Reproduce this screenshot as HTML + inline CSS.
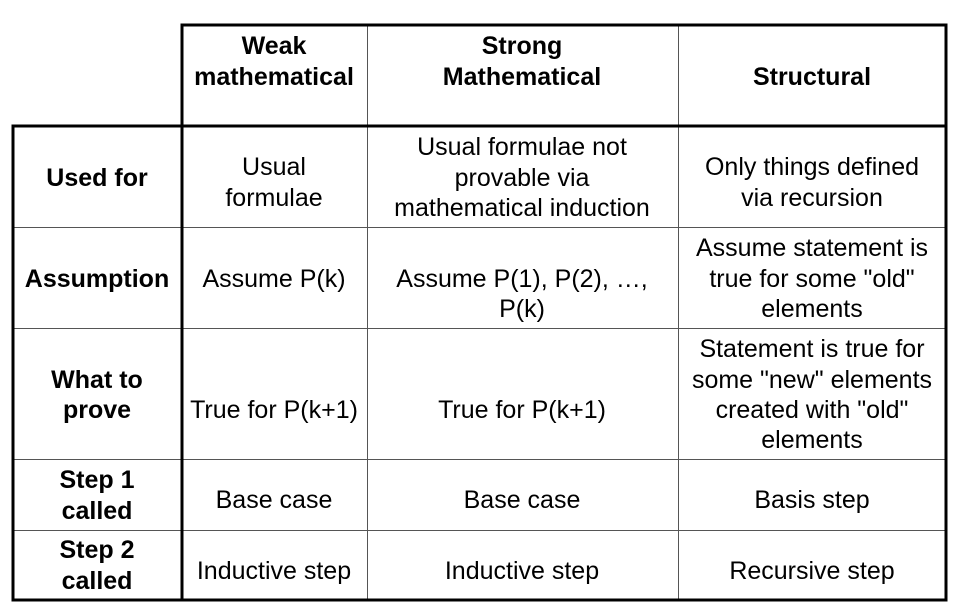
<!DOCTYPE html>
<html><head><meta charset="utf-8"><style>
html,body{margin:0;padding:0;background:#fff;width:955px;height:610px;overflow:hidden}
svg text{font-family:"Liberation Sans",Arial,Helvetica,sans-serif;font-size:25px;fill:#000;text-anchor:middle}
.b{font-weight:bold}
</style></head><body>
<svg width="955" height="610" xmlns="http://www.w3.org/2000/svg">
<g stroke="#555" stroke-width="1">
<line x1="367.5" y1="25" x2="367.5" y2="600"/>
<line x1="678.5" y1="25" x2="678.5" y2="600"/>
<line x1="13" y1="227.5" x2="946" y2="227.5"/>
<line x1="13" y1="328.5" x2="946" y2="328.5"/>
<line x1="13" y1="459.5" x2="946" y2="459.5"/>
<line x1="13" y1="530.5" x2="946" y2="530.5"/>
</g>
<g stroke="#000" stroke-width="3" fill="none">
<line x1="182" y1="25" x2="947" y2="25"/>
<line x1="182" y1="23.5" x2="182" y2="601"/>
<line x1="12" y1="126" x2="947" y2="126"/>
<line x1="13" y1="124.5" x2="13" y2="601"/>
<line x1="946" y1="23.5" x2="946" y2="601"/>
<line x1="11.5" y1="600" x2="947.5" y2="600"/>
</g>
<text class="b" x="274" y="54">Weak</text>
<text class="b" x="274" y="85">mathematical</text>
<text class="b" x="522" y="54">Strong</text>
<text class="b" x="522" y="85">Mathematical</text>
<text class="b" x="812" y="85">Structural</text>

<text class="b" x="97" y="186">Used for</text>
<text x="274" y="175">Usual</text>
<text x="274" y="206">formulae</text>
<text x="522" y="155">Usual  formulae not</text>
<text x="522" y="186">provable via</text>
<text x="522" y="216">mathematical induction</text>
<text x="812" y="175">Only things defined</text>
<text x="812" y="206">via recursion</text>

<text class="b" x="97" y="287">Assumption</text>
<text x="274" y="287">Assume P(k)</text>
<text x="522" y="287">Assume P(1), P(2), …,</text>
<text x="522" y="317">P(k)</text>
<text x="812" y="256">Assume statement is</text>
<text x="812" y="287">true for some "old"</text>
<text x="812" y="317">elements</text>

<text class="b" x="97" y="388">What to</text>
<text class="b" x="97" y="418">prove</text>
<text x="274" y="418">True for P(k+1)</text>
<text x="522" y="418">True for P(k+1)</text>
<text x="812" y="357">Statement is true for</text>
<text x="812" y="388">some "new" elements</text>
<text x="812" y="418">created with "old"</text>
<text x="812" y="448">elements</text>

<text class="b" x="97" y="488">Step 1</text>
<text class="b" x="97" y="519">called</text>
<text x="274" y="508">Base case</text>
<text x="522" y="508">Base case</text>
<text x="812" y="508">Basis step</text>

<text class="b" x="97" y="558">Step 2</text>
<text class="b" x="97" y="589">called</text>
<text x="274" y="579">Inductive step</text>
<text x="522" y="579">Inductive step</text>
<text x="812" y="579">Recursive step</text>
</svg>
</body></html>
